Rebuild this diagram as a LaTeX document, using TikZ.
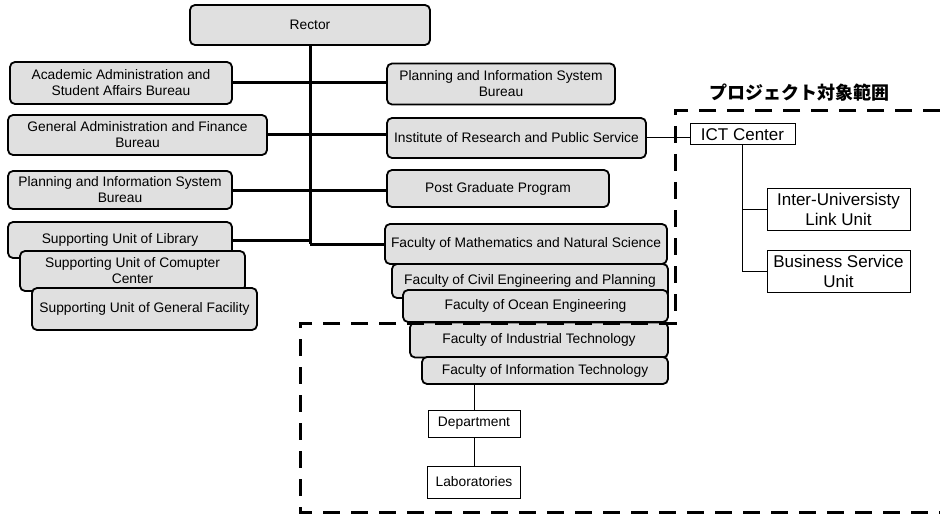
\documentclass[tikz,border=0pt]{standalone}
\usepackage{fontspec}
\setmainfont{Liberation Sans}
\newfontfamily\cjk{Noto Sans CJK JP}
\usetikzlibrary{positioning}
\definecolor{boxgray}{RGB}{224, 224, 224}

\begin{document}
\begin{tikzpicture}[
    x=1pt, y=-1pt,
    every node/.style={align=center, font=\fontsize{13.8}{16}\selectfont},
    bureau/.style={rectangle, rounded corners=5pt, draw, line width=1.8pt, fill=boxgray, inner sep=1pt},
    ictbox/.style={rectangle, draw, line width=1pt, fill=white, inner sep=1pt},
    bigtext/.style={font=\fontsize{17}{20}\selectfont},
    trunk/.style={line width=3pt},
    branch/.style={line width=1pt},
    boundary/.style={line width=3pt, dash pattern=on 17pt off 11pt}
]
\useasboundingbox (0,0) rectangle (940,524);

% Rector
\node[bureau, minimum width=240pt, minimum height=40pt] (rector) at (310,25) {Rector};

% Left column
\node[bureau, minimum width=222pt, minimum height=42pt] (academic) at (121,83) {Academic Administration and\\Student Affairs Bureau};
\node[bureau, minimum width=259pt, minimum height=40pt] (general) at (137.5,135) {General Administration and Finance\\Bureau};
\node[bureau, minimum width=224pt, minimum height=38pt] (plan_left) at (120,190) {Planning and Information System\\Bureau};
\node[bureau, minimum width=224pt, minimum height=36pt] (library) at (120,240) {Supporting Unit of Library};
\node[bureau, minimum width=225pt, minimum height=40pt] (computer) at (132.5,271) {Supporting Unit of Comupter\\Center};
\node[bureau, minimum width=225pt, minimum height=42pt] (facility) at (144.5,309) {Supporting Unit of General Facility};

% Right column
\node[bureau, minimum width=228pt, minimum height=41pt] (plan_right) at (501,84) {Planning and Information System\\Bureau};
\node[bureau, minimum width=259pt, minimum height=40pt] (institute) at (516.5,138) {Institute of Research and Public Service};
\node[bureau, minimum width=222pt, minimum height=37pt] (postgrad) at (498,188.5) {Post Graduate Program};

% Faculties
\node[bureau, minimum width=282pt, minimum height=40pt] (fac_math) at (526,244) {Faculty of Mathematics and Natural Science};
\node[bureau, minimum width=276pt, minimum height=34pt] (fac_civil) at (530,281) {Faculty of Civil Engineering and Planning};
\node[bureau, minimum width=265pt, minimum height=32pt] (fac_ocean) at (535.5,306) {Faculty of Ocean Engineering};
\node[bureau, minimum width=258pt, minimum height=35pt] (fac_industrial) at (539,340) {Faculty of Industrial Technology};
\node[bureau, minimum width=246pt, minimum height=27pt] (fac_info) at (545,370.5) {Faculty of Information Technology};

% Project scope
\node[font=\cjk\bfseries\fontsize{18}{20}\selectfont] (scope_title) at (799,93) {プロジェクト対象範囲};
\node[ictbox, bigtext, minimum width=105pt, minimum height=21pt] (ict) at (742.5,134.5) {ICT Center};
\node[ictbox, bigtext, minimum width=143pt, minimum height=42pt] (inter_univ) at (838.5,209) {Inter-Universisty\\Link Unit};
\node[ictbox, bigtext, minimum width=143pt, minimum height=42pt] (business) at (838.5,271) {Business Service\\Unit};
\node[ictbox, minimum width=92pt, minimum height=27pt] (department) at (474,423.5) {Department};
\node[ictbox, minimum width=93pt, minimum height=32pt, below=28pt of department] (laboratories) {Laboratories};

% Connections
\draw[trunk] (rector.south) -- (rector.south |- fac_math.west);
\draw[trunk] (academic.east) -- (academic.east -| plan_right.west);
\draw[trunk] (general.east) -- (general.east -| institute.west);
\draw[trunk] (plan_left.east) -- (plan_left.east -| postgrad.west);
\draw[trunk] (library.east) -- (library.east -| rector.south);
\draw[trunk] (rector.south |- fac_math.west) -- (fac_math.west);

\draw[branch] (institute.east) -- (institute.east -| ict.west);
\draw[branch] (ict.south) -- (ict.south |- business.west) -- (business.west);
\draw[branch] (ict.south |- inter_univ.west) -- (inter_univ.west);
\draw[branch] (department.north |- fac_info.south) -- (department.north);
\draw[branch] (department) -- (laboratories);

% Scope boundary
\draw[boundary] (940,111) -- (675,111) -- (675,323) -- (300,323) -- (300,512) -- (940,512);

\end{tikzpicture}
\end{document}
